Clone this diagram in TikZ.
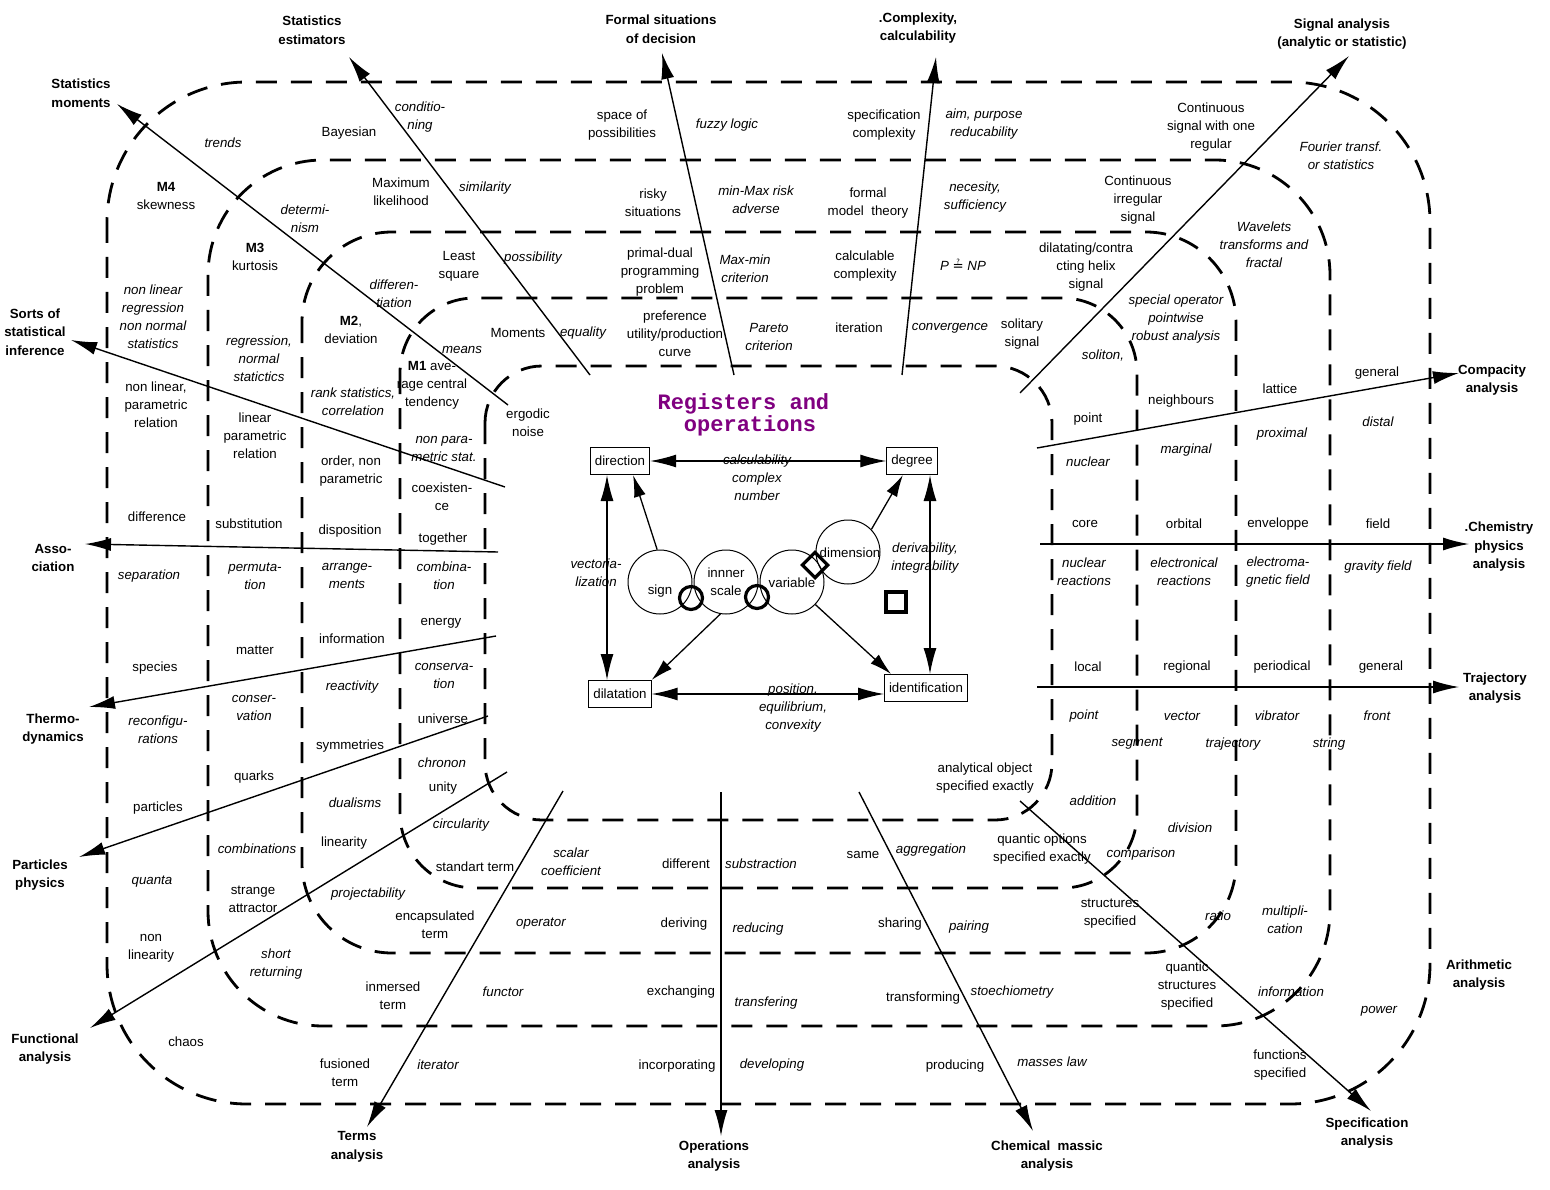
\documentclass[tikz,border=0pt]{standalone}
\usepackage{fontspec}
\setmainfont{Liberation Sans}
\newfontfamily\titlefont{Liberation Mono}
\newfontfamily\symfont{DejaVu Sans}
\usetikzlibrary{arrows.meta}
\definecolor{titlepurple}{RGB}{128,0,128}
\tikzset{
  ring/.style={line width=2.8pt, dash pattern=on 21pt off 14pt},
  arr/.style={line width=1.4pt, -{Latex[length=26pt,width=13pt]}},
  sarr/.style={line width=1.3pt, -{Latex[length=22pt,width=12pt]}},
  darr/.style={line width=1.3pt, {Latex[length=26pt,width=13pt]}-{Latex[length=26pt,width=13pt]}},
  t/.style={font=\fontsize{13.3}{18}\selectfont, align=center, inner sep=0pt},
  it/.style={t, font=\fontsize{13.3}{18}\selectfont\itshape},
  lab/.style={t, font=\fontsize{13.3}{18.5}\selectfont\bfseries},
  regbox/.style={draw, line width=1pt, minimum height=27pt, inner xsep=4.5pt, inner ysep=0pt, font=\fontsize{13.3}{18}\selectfont},
  circ/.style={draw, circle, minimum size=64pt, line width=1pt, inner sep=0pt},
  knot/.style={draw, circle, minimum size=23pt, line width=3.2pt, inner sep=0pt},
}
\begin{document}
\begin{tikzpicture}[x=1pt, y=-1pt]
\fill[white] (0,0) rectangle (1550,1190);
\useasboundingbox (0,0) rectangle (1550,1190);

% rings
\draw[ring, rounded corners=140pt] (107,82) rectangle (1430,1104);
\draw[ring, rounded corners=115pt] (208,160) rectangle (1330,1026);
\draw[ring, rounded corners=90pt] (302,232) rectangle (1236,953);
\draw[ring, rounded corners=75pt] (400,298) rectangle (1137,888);
\draw[ring, rounded corners=57pt] (485,366) rectangle (1052,820);

% outer labels
\node[lab] (L1) at (81,93) {Statistics\\moments};
\node[lab] (L2) at (312,30) {Statistics\\estimators};
\node[lab] (L3) at (661,29) {Formal situations\\of decision};
\node[lab] (L4) at (918,28) {.Complexity,\\calculability};
\node[lab] (L5) at (1342,34) {Signal analysis\\(analytic or statistic)};
\node[lab] (L6) at (1492,380) {Compacity\\analysis};
\node[lab] (L7) at (1499,547) {.Chemistry\\physics\\analysis};
\node[lab] (L8) at (1495,688) {Trajectory\\analysis};
\node[lab] (L9) at (1479,975) {Arithmetic\\analysis};
\node[lab] (L10) at (1367,1133) {Specification\\analysis};
\node[lab] (L11) at (1047,1156) {Chemical\ \ massic\\analysis};
\node[lab] (L12) at (714,1156) {Operations\\analysis};
\node[lab] (L13) at (357,1147) {Terms\\analysis};
\node[lab] (L14) at (45,1049) {Functional\\analysis};
\node[lab] (L15) at (40,875) {Particles\\physics};
\node[lab] (L16) at (53,729) {Thermo-\\dynamics};
\node[lab] (L17) at (53,558) {Asso-\\ciation};
\node[lab] (L18) at (35,332) {Sorts of\\statistical\\inference};

% arrow coordinates
\coordinate (s1) at (508,405);  \coordinate (e1) at (117,104);
\coordinate (s2) at (590,375);  \coordinate (e2) at (349,57);
\coordinate (s3) at (734,375);  \coordinate (e3) at (662,53);
\coordinate (s4) at (902,375);  \coordinate (e4) at (936,57);
\coordinate (s5) at (1020,393); \coordinate (e5) at (1349,56);
\coordinate (s6) at (1037,448); \coordinate (e6) at (1459,373);
\coordinate (s7) at (1040,544); \coordinate (e7) at (1469,544);
\coordinate (s8) at (1037,687); \coordinate (e8) at (1459,687);
\coordinate (s9) at (1020,801); \coordinate (e9) at (1371,1111);
\coordinate (s10) at (859,792); \coordinate (e10) at (1033,1131);
\coordinate (s11) at (721,792); \coordinate (e11) at (721,1136);
\coordinate (s12) at (563,791); \coordinate (e12) at (367,1127);
\coordinate (s13) at (507,772); \coordinate (e13) at (90,1028);
\coordinate (s14) at (488,716); \coordinate (e14) at (79,857);
\coordinate (s15) at (496,636); \coordinate (e15) at (89,707);
\coordinate (s16) at (498,552); \coordinate (e16) at (85,544);
\coordinate (s17) at (505,487); \coordinate (e17) at (71,340);
\foreach \i in {1,...,17} {\draw[arr] (s\i) -- (e\i);}

% top band
\node[it] (trends) at (223,143) {trends};
\node[t] (bayes) at (349,133) {Bayesian};
\node[it] (condit) at (420,117) {conditio-\\ning};
\node[t] (space) at (622,125) {space of\\possibilities};
\node[it] (fuzzy) at (727,125) {fuzzy logic};
\node[t] (speccx) at (884,125) {specification\\complexity};
\node[it] (aim) at (984,124) {aim, purpose\\reducability};
\node[t] (cont1) at (1211,127) {Continuous\\signal with one\\regular};
\node[it] (fourier) at (1341,156) {Fourier transf.\\or statistics};

\node[t] (m4) at (166,196) {\textbf{M4}\\skewness};
\node[it] (determ) at (305,219) {determi-\\nism};
\node[t] (maxlik) at (401,192) {Maximum\\likelihood};
\node[it] (simil) at (485,188) {similarity};
\node[t] (risky) at (653,203) {risky\\situations};
\node[it] (minmax) at (756,200) {min-Max risk\\adverse};
\node[t] (formal) at (868,203) {formal\\model\ \ theory};
\node[it] (neces) at (975,197) {necesity,\\sufficiency};
\node[t] (cont2) at (1138,200) {Continuous\\irregular\\signal};
\node[it] (wavel) at (1264,245) {Wavelets\\transforms and\\fractal};

\node[t] (m3) at (255,257) {\textbf{M3}\\kurtosis};
\node[it] (differ) at (394,294) {differen-\\tiation};
\node[t] (least) at (459,266) {Least\\square};
\node[it] (possib) at (533,258) {possibility};
\node[t] (primal) at (660,272) {primal-dual\\programming\\problem};
\node[it] (maxmin) at (745,269) {Max-min\\criterion};
\node[t] (calcx) at (865,266) {calculable\\complexity};
\node[it] (pnp) at (963,265) {P {\symfont\upshape ≟} NP};
\node[t] (helix) at (1086,267) {dilatating/contra\\cting helix\\signal};
\node[it] (specop) at (1176,319) {special operator\\pointwise\\robust analysis};

\node[t] (m2) at (351,330) {\textbf{M2},\\deviation};
\node[it] (means) at (462,350) {means};
\node[t] (moments) at (518,333) {Moments};
\node[it] (equal) at (583,333) {equality};
\node[t] (prefer) at (675,334) {preference\\utility/production\\curve};
\node[it] (pareto) at (769,337) {Pareto\\criterion};
\node[t] (iter) at (859,328) {iteration};
\node[it] (conver) at (950,328) {convergence};
\node[t] (solit) at (1022,334) {solitary\\signal};
\node[it] (soliton) at (1103,356) {soliton,};

% left column 1
\node[it] (nlreg) at (153,317) {non linear\\regression\\non normal\\statistics};
\node[t] (nlpar) at (156,405) {non linear,\\parametric\\relation};
\node[t] (diff) at (157,517) {difference};
\node[it] (separ) at (149,576) {separation};
\node[t] (species) at (155,668) {species};
\node[it] (reconf) at (158,730) {reconfigu-\\rations};
\node[t] (partic) at (158,808) {particles};
\node[it] (quanta) at (152,882) {quanta};
\node[t] (nonlin) at (151,948) {non\\linearity};
\node[t] (chaos) at (186,1042) {chaos};

% left column 2
\node[it] (regr) at (259,359) {regression,\\normal\\statictics};
\node[t] (linpar) at (255,436) {linear\\parametric\\relation};
\node[t] (subst) at (249,524) {substitution};
\node[it] (permut) at (255,576) {permuta-\\tion};
\node[t] (matter) at (255,650) {matter};
\node[it] (conser) at (254,708) {conser-\\vation};
\node[t] (quarks) at (254,777) {quarks};
\node[it] (combs) at (257,849) {combinations};
\node[t] (strange) at (253,899) {strange\\attractor};
\node[it] (short) at (276,964) {short\\returning};

% left column 3
\node[it] (rank) at (353,402) {rank statistics,\\correlation};
\node[t] (order) at (351,471) {order, non\\parametric};
\node[t] (dispo) at (350,531) {disposition};
\node[it] (arrang) at (347,576) {arrange-\\ments};
\node[t] (inform) at (352,639) {information};
\node[it] (react) at (352,687) {reactivity};
\node[t] (symm) at (350,746) {symmetries};
\node[it] (dual) at (355,803) {dualisms};
\node[t] (linear) at (344,843) {linearity};
\node[it] (project) at (368,894) {projectability};
\node[t] (encaps) at (435,925) {encapsulated\\term};
\node[t] (inmers) at (393,996) {inmersed\\term};
\node[t] (fusion) at (345,1073) {fusioned\\term};

% left column 4
\node[t] (m1) at (432,385) {\textbf{M1} ave-\\rage central\\tendency};
\node[t] (ergodic) at (528,423) {ergodic\\noise};
\node[it] (nonpara) at (444,449) {non para-\\metric stat.};
\node[t] (coexist) at (442,497) {coexisten-\\ce};
\node[t] (together) at (443,539) {together};
\node[it] (combina) at (444,576) {combina-\\tion};
\node[t] (energy) at (441,623) {energy};
\node[it] (conserva) at (444,676) {conserva-\\tion};
\node[t] (universe) at (443,719) {universe};
\node[it] (chronon) at (442,763) {chronon};
\node[t] (unity) at (443,788) {unity};
\node[it] (circul) at (461,825) {circularity};
\node[t] (standart) at (475,867) {standart term};

% bottom
\node[it] (scalar) at (571,862) {scalar\\coefficient};
\node[t] (different) at (686,864) {different};
\node[it] (substr) at (761,864) {substraction};
\node[t] (same) at (863,855) {same};
\node[it] (aggreg) at (931,850) {aggregation};
\node[t] (qopt) at (1042,849) {quantic options\\specified exactly};
\node[t] (analyt) at (985,778) {analytical object\\specified exactly};
\node[it] (operator) at (541,924) {operator};
\node[t] (deriving) at (684,924) {deriving};
\node[it] (reducing) at (758,929) {reducing};
\node[t] (sharing) at (900,924) {sharing};
\node[it] (pairing) at (969,927) {pairing};
\node[t] (struct) at (1110,914) {structures\\specified};
\node[it] (functor) at (503,992) {functor};
\node[t] (exchang) at (681,992) {exchanging};
\node[it] (transf) at (766,1003) {transfering};
\node[t] (transfm) at (923,998) {transforming};
\node[it] (stoech) at (1012,992) {stoechiometry};
\node[t] (qstruct) at (1187,986) {quantic\\structures\\specified};
\node[it] (iterator) at (438,1065) {iterator};
\node[t] (incorp) at (677,1066) {incorporating};
\node[it] (develop) at (772,1065) {developing};
\node[t] (produc) at (955,1066) {producing};
\node[it] (masses) at (1052,1062) {masses law};
\node[t] (funcspec) at (1280,1065) {functions\\specified};

% right bottom
\node[it] (addition) at (1093,801) {addition};
\node[it] (division) at (1190,828) {division};
\node[it] (compar) at (1141,854) {comparison};
\node[it] (ratio) at (1218,916) {ratio};
\node[it] (multip) at (1285,920) {multipli-\\cation};
\node[it] (informi) at (1291,992) {information};
\node[it] (power) at (1379,1011) {power};

% right columns
\node[t] (pt1) at (1088,419) {point};
\node[t] (neigh) at (1181,401) {neighbours};
\node[t] (lattice) at (1280,389) {lattice};
\node[t] (gen1) at (1377,373) {general};
\node[it] (nucl) at (1088,462) {nuclear};
\node[it] (margin) at (1186,450) {marginal};
\node[it] (proxim) at (1282,434) {proximal};
\node[it] (distal) at (1378,422) {distal};
\node[t] (core) at (1085,524) {core};
\node[t] (orbital) at (1184,524) {orbital};
\node[t] (envel) at (1278,524) {enveloppe};
\node[t] (field) at (1378,524) {field};
\node[it] (nreact) at (1084,572) {nuclear\\reactions};
\node[it] (ereact) at (1184,572) {electronical\\reactions};
\node[it] (emfield) at (1278,572) {electroma-\\gnetic field};
\node[it] (grav) at (1378,567) {gravity field};
\node[t] (local) at (1088,667) {local};
\node[t] (regional) at (1187,667) {regional};
\node[t] (period) at (1282,667) {periodical};
\node[t] (gen2) at (1381,667) {general};
\node[it] (pt2) at (1084,716) {point};
\node[it] (vector) at (1182,716) {vector};
\node[it] (vibr) at (1277,716) {vibrator};
\node[it] (front) at (1377,716) {front};
\node[it] (segm) at (1137,744) {segment};
\node[it] (traj) at (1233,744) {trajectory};
\node[it] (string) at (1329,744) {string};

% centre
\node[font=\fontsize{22}{20.5}\selectfont\titlefont\bfseries, text=titlepurple, align=center, inner sep=0pt] (title) at (750,415) {Registers and\hphantom{x}\\operations};

\node[regbox] (direction) at (620,461) {direction};
\node[regbox] (degree) at (912,461) {degree};
\node[regbox] (dilatation) at (620,694) {dilatation};
\node[regbox] (identification) at (926,688) {identification};

\draw[darr] (direction) -- (degree);
\draw[darr] ([xshift=-13pt]direction.south) -- ([xshift=-13pt]dilatation.north);
\draw[darr] ([xshift=18pt]degree.south) -- ([xshift=18pt]degree.south |- identification.north);
\draw[darr] (dilatation.east) -- (dilatation.east -| identification.west);

\node[it] (calc) at (757,478) {calculability\\complex\\number};
\node[it] (vect) at (596,573) {vectoria-\\lization};
\node[it] (deriv) at (925,558) {derivability,\\integrability};
\node[it] (posit) at (793,708) {position,\\equilibrium,\\convexity};

\node[circ] (sign) at (660,582) {};
\node[circ] (inner) at (726,582) {};
\node[circ] (variable) at (792,582) {};
\node[circ] (dimension) at (848,552) {};
\node[t] (signt) at (660,591) {sign};
\node[t] (innert) at (726,582) {innner\\scale};
\node[t] (vart) at (792,583) {variable};
\node[t] (dimt) at (850,553) {dimension};

\node[knot] (k1) at (691,598) {};
\node[knot] (k2) at (757,597) {};
\node[draw, line width=3.2pt, minimum size=18pt, inner sep=0pt, rotate=45] (diam) at (815,565) {};
\node[draw, line width=4pt, minimum size=20pt, inner sep=0pt] (sq) at (896,602) {};

\draw[sarr] (sign.95) -- (direction.-47);
\draw[sarr] (dimension.44) -- (degree.-123);
\draw[sarr] (inner.-100) -- (dilatation.north east);
\draw[sarr] (variable.-44) -- ([xshift=7pt]identification.north west);
\end{tikzpicture}
\end{document}
